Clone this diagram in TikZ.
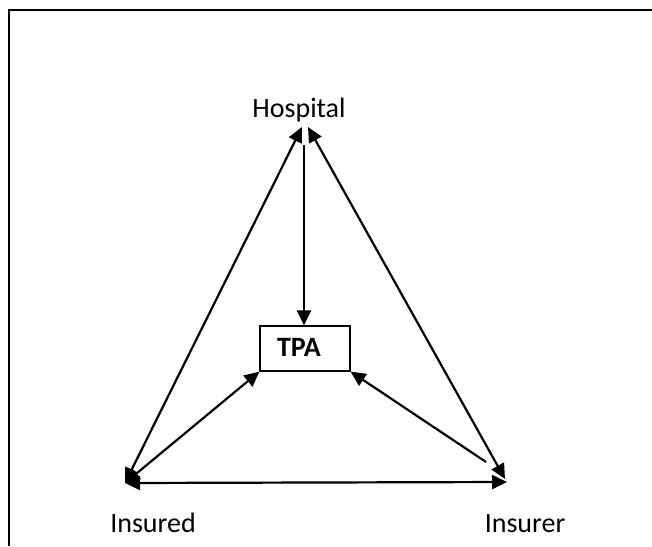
\documentclass[tikz,border=0pt]{standalone}
\usepackage{fontspec}
\setmainfont{Carlito}
\usetikzlibrary{arrows.meta}
\begin{document}
\begin{tikzpicture}[x=1pt,y=-1pt,
  lbl/.style={font=\fontsize{28}{32}\selectfont, anchor=base, inner sep=0pt},
  tip/.style={line width=2.2pt, {Triangle[length=15pt,width=14pt]}-{Triangle[length=15pt,width=14pt]}},
  onetip/.style={line width=2.2pt, -{Triangle[length=15pt,width=14pt]}},
  box/.style={draw, line width=1.2pt, minimum width=90pt, minimum height=45pt, inner sep=0pt}]
\useasboundingbox (0,0) rectangle (652,546);
\draw[line width=2pt] (9,546) -- (9,10) -- (652,10);
\node[lbl] (hospital) at (299,117) {Hospital};
\node[lbl] (insured) at (153,532) {Insured};
\node[lbl] (insurer) at (525,532) {Insurer};
\node[box] (tpa) at (305,348.5) {};
\node[lbl, font=\fontsize{28}{32}\selectfont\bfseries] (tpatext) at (299,356) {TPA};
\coordinate (hL) at (302,127);
\coordinate (hR) at (308,127);
\coordinate (hC) at (304,145);
\coordinate (iL) at (125,483);
\coordinate (iR) at (507,482);
\coordinate (iR2) at (505,479);
\coordinate (iRs) at (486,462);
\draw[tip] (hL) -- (iL);
\draw[tip] (hR) -- (iR2);
\draw[tip] (iL) -- (iR);
\draw[onetip] (hC) -- (tpa.north -| hC);
\draw[tip] (iL) -- (tpa.south west);
\draw[onetip] (iRs) -- (tpa.south east);
\end{tikzpicture}
\end{document}
